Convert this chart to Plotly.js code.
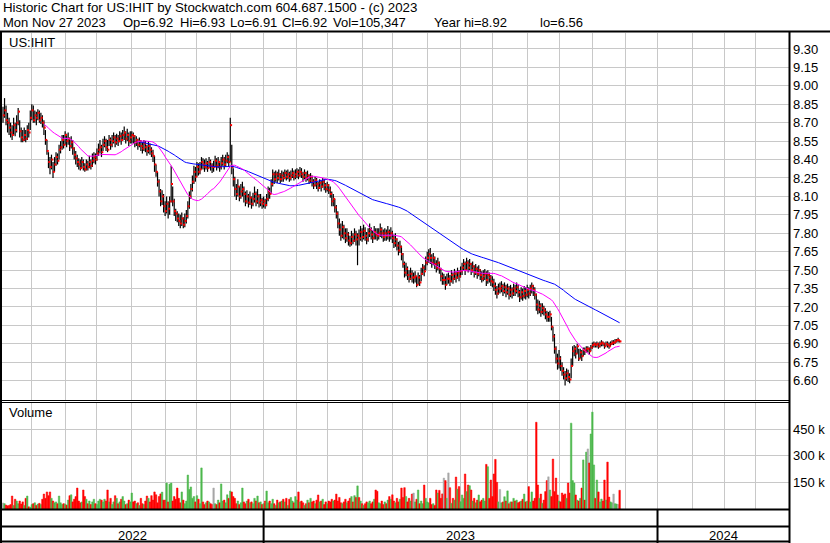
<!DOCTYPE html>
<html><head><meta charset="utf-8">
<script src="https://cdn.plot.ly/plotly-3.0.1.min.js"></script>
<style>html,body{margin:0;padding:0;background:#fff;}#chart{width:830px;height:543px;}</style>
</head><body><div id="chart"></div>
<script>
// ---------- data ----------
const lastTradeDate = '2023-11-27';
const closes = [
8.76,8.80,8.72,8.70,8.66,8.62,8.60,8.68,8.64,8.70,
8.79,8.63,8.58,8.56,8.60,8.57,8.64,8.62,8.74,8.80,
8.72,8.76,8.74,8.78,8.72,8.74,8.70,8.66,8.56,8.47,
8.38,8.34,8.40,8.30,8.36,8.42,8.39,8.48,8.50,8.56,
8.52,8.60,8.55,8.57,8.51,8.54,8.49,8.44,8.41,8.38,
8.36,8.33,8.38,8.34,8.32,8.36,8.34,8.38,8.35,8.39,
8.42,8.40,8.45,8.48,8.50,8.46,8.52,8.55,8.50,8.48,
8.56,8.52,8.55,8.58,8.54,8.57,8.55,8.59,8.56,8.60,
8.62,8.57,8.60,8.55,8.58,8.60,8.59,8.54,8.56,8.52,
8.55,8.51,8.49,8.53,8.50,8.47,8.51,8.48,8.45,8.43,
8.36,8.30,8.22,8.14,8.06,8.10,8.02,7.98,8.04,8.00,
8.06,8.20,8.06,7.98,7.96,7.92,7.90,7.88,7.92,7.87,
7.90,7.94,8.02,8.10,8.16,8.22,8.30,8.26,8.34,8.30,
8.32,8.38,8.36,8.34,8.37,8.33,8.38,8.35,8.34,8.34,
8.39,8.35,8.38,8.34,8.37,8.40,8.36,8.39,8.42,8.38,
8.68,8.34,8.24,8.16,8.12,8.18,8.10,8.14,8.16,8.12,
8.06,8.10,8.05,8.09,8.04,8.08,8.12,8.06,8.10,8.05,
8.07,8.04,8.06,8.03,8.08,8.14,8.12,8.20,8.28,8.24,
8.28,8.25,8.28,8.24,8.27,8.25,8.29,8.26,8.28,8.25,
8.27,8.29,8.26,8.28,8.30,8.27,8.30,8.28,8.26,8.29,
8.25,8.27,8.23,8.26,8.22,8.19,8.23,8.20,8.17,8.21,
8.18,8.22,8.19,8.16,8.19,8.15,8.12,8.06,8.08,8.01,
7.96,7.88,7.83,7.78,7.85,7.80,7.76,7.79,7.74,7.72,
7.77,7.74,7.79,7.75,7.78,7.76,7.81,7.77,7.82,7.78,
7.75,7.80,7.83,7.79,7.76,7.81,7.79,7.78,7.80,7.83,
7.80,7.77,7.80,7.78,7.81,7.78,7.80,7.76,7.72,7.75,
7.70,7.66,7.69,7.63,7.55,7.48,7.51,7.46,7.43,7.47,
7.44,7.44,7.45,7.38,7.44,7.40,7.47,7.52,7.49,7.56,
7.60,7.63,7.60,7.56,7.60,7.55,7.52,7.56,7.51,7.45,
7.42,7.42,7.38,7.43,7.43,7.41,7.46,7.43,7.47,7.44,
7.48,7.45,7.49,7.52,7.55,7.50,7.56,7.52,7.55,7.50,
7.53,7.48,7.51,7.47,7.50,7.46,7.43,7.45,7.47,7.42,
7.46,7.44,7.41,7.40,7.37,7.34,7.31,7.35,7.35,7.37,
7.33,7.36,7.32,7.35,7.30,7.34,7.31,7.35,7.33,7.36,
7.32,7.28,7.32,7.29,7.33,7.30,7.34,7.31,7.35,7.37,
7.34,7.30,7.22,7.18,7.21,7.16,7.19,7.17,7.14,7.12,
7.12,7.14,7.04,6.96,6.86,6.78,6.74,6.78,6.72,6.68,
6.65,6.62,6.66,6.63,6.61,6.72,6.84,6.86,6.82,6.88,
6.78,6.83,6.80,6.85,6.84,6.86,6.86,6.84,6.87,6.89,
6.90,6.89,6.90,6.88,6.90,6.91,6.90,6.88,6.90,6.89,
6.88,6.90,6.91,6.91,6.92,6.93,6.93,6.92];
const highs = [
8.83,8.90,8.84,8.78,8.74,8.70,8.68,8.74,8.70,8.76,
8.82,8.72,8.66,8.64,8.66,8.64,8.68,8.70,8.80,8.85,
8.84,8.80,8.79,8.81,8.80,8.78,8.76,8.72,8.64,8.56,
8.46,8.42,8.44,8.38,8.42,8.46,8.45,8.52,8.55,8.60,
8.60,8.63,8.61,8.62,8.58,8.59,8.56,8.50,8.47,8.44,
8.41,8.40,8.42,8.40,8.37,8.40,8.39,8.43,8.40,8.45,
8.46,8.45,8.49,8.53,8.56,8.52,8.57,8.59,8.57,8.56,
8.60,8.58,8.60,8.62,8.60,8.61,8.60,8.63,8.62,8.64,
8.67,8.63,8.65,8.62,8.63,8.63,8.62,8.60,8.59,8.57,
8.58,8.56,8.54,8.56,8.55,8.52,8.55,8.53,8.50,8.48,
8.43,8.36,8.30,8.24,8.16,8.15,8.12,8.06,8.10,8.06,
8.10,8.35,8.18,8.08,8.00,7.98,7.96,7.95,7.97,7.93,
7.96,7.99,8.06,8.14,8.20,8.27,8.35,8.34,8.38,8.37,
8.38,8.42,8.41,8.40,8.41,8.39,8.42,8.40,8.37,8.39,
8.43,8.41,8.42,8.39,8.42,8.44,8.42,8.44,8.46,8.44,
8.74,8.52,8.33,8.26,8.20,8.24,8.18,8.20,8.22,8.18,
8.14,8.15,8.12,8.14,8.10,8.13,8.18,8.14,8.16,8.12,
8.12,8.09,8.10,8.08,8.12,8.18,8.17,8.24,8.32,8.30,
8.31,8.30,8.32,8.29,8.31,8.30,8.32,8.31,8.32,8.30,
8.31,8.33,8.31,8.32,8.33,8.32,8.34,8.33,8.30,8.32,
8.30,8.31,8.28,8.29,8.27,8.24,8.26,8.25,8.22,8.24,
8.23,8.25,8.24,8.21,8.22,8.20,8.18,8.14,8.12,8.08,
8.03,7.98,7.92,7.88,7.90,7.87,7.84,7.84,7.81,7.78,
7.82,7.80,7.84,7.82,7.80,7.83,7.86,7.84,7.87,7.85,
7.81,7.84,7.88,7.85,7.82,7.86,7.84,7.84,7.84,7.88,
7.85,7.83,7.84,7.83,7.86,7.83,7.85,7.82,7.79,7.80,
7.76,7.73,7.74,7.70,7.64,7.57,7.56,7.53,7.50,7.52,
7.50,7.48,7.49,7.45,7.48,7.46,7.52,7.55,7.54,7.61,
7.65,7.67,7.68,7.63,7.64,7.61,7.58,7.60,7.57,7.52,
7.48,7.47,7.45,7.47,7.48,7.46,7.50,7.48,7.51,7.49,
7.52,7.50,7.53,7.56,7.59,7.57,7.60,7.58,7.59,7.56,
7.57,7.54,7.55,7.53,7.54,7.51,7.49,7.50,7.51,7.49,
7.50,7.48,7.46,7.45,7.43,7.40,7.37,7.39,7.40,7.41,
7.39,7.40,7.38,7.39,7.37,7.38,7.36,7.39,7.38,7.40,
7.38,7.34,7.36,7.35,7.37,7.36,7.38,7.36,7.38,7.40,
7.38,7.36,7.31,7.26,7.25,7.23,7.23,7.21,7.19,7.17,
7.16,7.17,7.12,7.04,6.98,6.88,6.82,6.85,6.80,6.75,
6.71,6.68,6.70,6.69,6.66,6.78,6.88,6.89,6.88,6.90,
6.86,6.86,6.85,6.87,6.87,6.88,6.88,6.87,6.89,6.91,
6.92,6.91,6.92,6.91,6.92,6.93,6.92,6.91,6.92,6.92,
6.91,6.92,6.93,6.93,6.94,6.94,6.95,6.93];
const lows = [
8.70,8.74,8.68,8.62,8.60,8.58,8.56,8.60,8.59,8.62,
8.68,8.58,8.54,8.54,8.55,8.54,8.56,8.58,8.64,8.72,
8.70,8.70,8.68,8.72,8.70,8.69,8.66,8.60,8.52,8.44,
8.33,8.28,8.32,8.25,8.30,8.35,8.36,8.40,8.45,8.48,
8.49,8.52,8.50,8.52,8.47,8.49,8.44,8.40,8.36,8.34,
8.32,8.31,8.33,8.31,8.30,8.31,8.31,8.33,8.32,8.34,
8.37,8.36,8.39,8.43,8.45,8.42,8.47,8.50,8.47,8.46,
8.51,8.48,8.50,8.53,8.50,8.52,8.51,8.54,8.52,8.55,
8.56,8.53,8.55,8.51,8.53,8.53,8.53,8.50,8.51,8.48,
8.50,8.47,8.45,8.47,8.46,8.43,8.45,8.44,8.42,8.38,
8.30,8.26,8.18,8.10,8.02,8.03,7.97,7.94,7.96,7.92,
7.95,8.05,8.02,7.94,7.90,7.89,7.86,7.84,7.86,7.84,
7.85,7.88,7.92,8.00,8.08,8.14,8.20,8.22,8.26,8.27,
8.28,8.32,8.32,8.30,8.32,8.30,8.33,8.31,8.29,8.30,
8.34,8.31,8.33,8.30,8.32,8.35,8.32,8.34,8.37,8.34,
8.38,8.28,8.18,8.10,8.07,8.10,8.06,8.08,8.10,8.05,
8.02,8.04,8.01,8.03,8.00,8.02,8.05,8.02,8.04,8.01,
8.02,8.00,8.01,8.00,8.02,8.06,8.08,8.12,8.18,8.20,
8.22,8.21,8.23,8.21,8.22,8.22,8.24,8.23,8.24,8.22,
8.23,8.25,8.23,8.24,8.25,8.24,8.26,8.25,8.22,8.24,
8.22,8.23,8.20,8.21,8.18,8.16,8.18,8.16,8.14,8.16,
8.14,8.17,8.15,8.13,8.14,8.12,8.09,8.02,8.02,7.97,
7.92,7.84,7.78,7.74,7.76,7.75,7.72,7.73,7.70,7.69,
7.70,7.71,7.73,7.70,7.54,7.70,7.74,7.73,7.75,7.74,
7.71,7.73,7.77,7.75,7.72,7.75,7.75,7.74,7.75,7.77,
7.76,7.73,7.74,7.74,7.75,7.73,7.75,7.72,7.68,7.69,
7.66,7.62,7.64,7.58,7.52,7.44,7.45,7.42,7.40,7.42,
7.40,7.39,7.40,7.36,7.38,7.37,7.41,7.46,7.45,7.50,
7.54,7.56,7.55,7.52,7.54,7.51,7.48,7.50,7.47,7.41,
7.38,7.38,7.34,7.38,7.39,7.37,7.40,7.39,7.42,7.40,
7.43,7.41,7.44,7.46,7.50,7.46,7.50,7.48,7.50,7.46,
7.48,7.44,7.46,7.43,7.45,7.42,7.40,7.41,7.42,7.37,
7.39,7.40,7.37,7.36,7.33,7.30,7.27,7.30,7.31,7.32,
7.29,7.31,7.28,7.30,7.26,7.28,7.27,7.29,7.29,7.31,
7.28,7.24,7.26,7.25,7.27,7.26,7.28,7.27,7.29,7.31,
7.29,7.26,7.17,7.14,7.15,7.12,7.14,7.13,7.10,7.08,
7.08,7.08,7.01,6.92,6.82,6.74,6.69,6.70,6.68,6.64,
6.61,6.56,6.60,6.59,6.58,6.62,6.72,6.80,6.78,6.82,
6.76,6.78,6.76,6.80,6.81,6.83,6.83,6.81,6.84,6.86,
6.87,6.87,6.87,6.86,6.87,6.88,6.88,6.86,6.88,6.87,
6.86,6.88,6.89,6.89,6.90,6.91,6.91,6.91];
const volumes = [
34000,30000,22000,18000,20000,25000,73000,20000,55000,45000,
30000,45000,28000,40000,20000,60000,73000,12000,10000,25000,
30000,35000,20000,28000,32000,25000,55000,84000,60000,96000,
75000,96000,60000,45000,35000,40000,30000,73000,35000,25000,
30000,28000,22000,50000,75000,80000,40000,55000,70000,118000,
45000,35000,40000,107000,70000,55000,30000,45000,25000,40000,
55000,30000,25000,45000,55000,50000,40000,55000,45000,107000,
40000,60000,25000,40000,75000,60000,30000,40000,55000,70000,
45000,25000,30000,50000,40000,90000,40000,45000,30000,35000,
20000,60000,30000,25000,45000,73000,60000,40000,75000,50000,
96000,80000,35000,70000,85000,95000,50000,50000,146000,40000,
140000,146000,45000,70000,55000,118000,60000,35000,96000,50000,
30000,45000,191000,110000,124000,60000,70000,40000,75000,55000,
30000,231000,40000,25000,35000,45000,40000,30000,25000,118000,
30000,25000,50000,35000,141000,45000,50000,35000,80000,60000,
101000,96000,70000,60000,30000,45000,25000,35000,118000,40000,
30000,45000,55000,35000,40000,30000,60000,45000,73000,35000,
40000,25000,30000,45000,101000,35000,45000,30000,55000,30000,
20000,50000,35000,40000,45000,55000,40000,60000,20000,55000,
65000,45000,35000,70000,50000,96000,40000,45000,35000,20000,
30000,50000,35000,60000,40000,45000,30000,50000,79000,40000,
45000,55000,25000,40000,30000,45000,40000,55000,45000,50000,
84000,45000,65000,35000,30000,40000,55000,35000,45000,60000,
70000,40000,75000,65000,130000,65000,45000,30000,20000,30000,
40000,35000,45000,30000,40000,55000,107000,100000,35000,30000,
45000,25000,40000,30000,50000,70000,55000,80000,45000,35000,
60000,40000,55000,118000,65000,120000,70000,40000,60000,45000,
84000,90000,40000,55000,107000,30000,45000,30000,135000,60000,
40000,35000,60000,25000,30000,20000,107000,90000,105000,60000,
85000,174000,160000,60000,203000,120000,32000,60000,50000,180000,
112000,126000,41000,79000,60000,197000,98000,135000,131000,107000,
45000,60000,35000,50000,79000,41000,50000,60000,45000,251000,
238000,60000,163000,70000,197000,279000,150000,40000,110000,35000,
40000,69000,45000,102000,30000,40000,40000,60000,45000,50000,
35000,40000,45000,55000,84000,40000,45000,126000,40000,96000,
45000,60000,488000,135000,60000,84000,32000,50000,98000,160000,
181000,107000,70000,281000,98000,174000,79000,45000,40000,90000,
79000,85000,60000,146000,90000,483000,160000,146000,79000,50000,
45000,60000,118000,276000,50000,320000,338000,259000,422000,545000,
248000,60000,163000,96000,40000,56000,45000,163000,50000,264000,
67000,40000,35000,84000,30000,28000,25000,105347];
const fastWindow = 28;   // magenta average (trading days)
const slowWindow = 91;   // blue average (trading days)
const priceTicks = [6.60,6.75,6.90,7.05,7.20,7.35,7.50,7.65,7.80,7.95,8.10,8.25,8.40,8.55,8.70,8.85,9.00,9.15,9.30];
const priceTickText = ['6.60','6.75','6.90','7.05','7.20','7.35','7.50','7.65','7.80','7.95','8.10','8.25','8.40','8.55','8.70','8.85','9.00','9.15','9.30'];
const volumeTicks = [150000,300000,450000];
const volumeTickText = ['150 k','300 k','450 k'];
const yearLabels = ['2022','2023','2024'];
const headerLine1 = 'Historic Chart for US:IHIT by Stockwatch.com 604.687.1500 - (c) 2023';
const headerFields = ['Mon Nov 27 2023','Op=6.92','Hi=6.93','Lo=6.91','Cl=6.92','Vol=105,347','Year hi=8.92','lo=6.56'];
const symbolLabel = 'US:IHIT';
const volumeLabel = 'Volume';

// ---------- derived ----------
function tradingDates(n, end) {
  const out = [];
  const d = new Date(end + 'T00:00:00Z');
  while (out.length < n) {
    const wd = d.getUTCDay();
    if (wd !== 0 && wd !== 6) out.unshift(d.toISOString().slice(0, 10));
    d.setUTCDate(d.getUTCDate() - 1);
  }
  return out;
}
const dates = tradingDates(closes.length, lastTradeDate);
// close tick drawn just to the right of each bar
const closeTickX = dates.map(d => d + ' 13:00');

function sma(vals, n) {
  return vals.map((v, i) => {
    if (i < n - 1) return null;
    let s = 0; for (let k = i - n + 1; k <= i; k++) s += vals[k];
    return s / n;
  });
}
const fastMA = sma(closes, fastWindow);
const slowMA = sma(closes, slowWindow);

const barX = [], barY = [];
dates.forEach((d, i) => { barX.push(d, d, null); barY.push(lows[i], highs[i], null); });

const volColors = closes.map((c, i) => i === 0 ? '#a8a8a8' : c > closes[i-1] ? '#4db84d' : c < closes[i-1] ? '#ff0000' : '#a8a8a8');

function monthStarts(y0, m0, y1, m1) {
  const out = [];
  let y = y0, m = m0;
  while (y < y1 || (y === y1 && m <= m1)) {
    const d = new Date(Date.UTC(y, m - 1, 1));
    while (d.getUTCDay() === 0 || d.getUTCDay() === 6) d.setUTCDate(d.getUTCDate() + 1);
    out.push(d.toISOString().slice(0, 10));
    m++; if (m > 12) { m = 1; y++; }
  }
  return out;
}
const gridMonths = monthStarts(2022, 6, 2024, 4);

// ---------- layout ----------
const W = 830, H = 543;
const fx = p => p / W, fy = p => 1 - p / H;
const FONT = 'Liberation Sans, Arial, sans-serif';
const xRange = ['2022-05-04 08:00', '2024-04-30 19:00'];
const xBase = {
  type: 'date', range: xRange, rangebreaks: [{bounds: ['sat', 'mon']}],
  domain: [fx(2), fx(789)], tickmode: 'array', tickvals: gridMonths,
  showticklabels: false, ticks: '', showgrid: true, gridcolor: '#c8c8c8', gridwidth: 1,
  zeroline: false, showline: false, fixedrange: true
};

const traces = [
  {type: 'scatter', mode: 'lines', x: barX, y: barY, xaxis: 'x', yaxis: 'y',
   line: {color: '#000000', width: 1.2}, hoverinfo: 'skip', connectgaps: false},
  {type: 'scatter', mode: 'markers', x: closeTickX, y: closes, xaxis: 'x', yaxis: 'y',
   marker: {symbol: 'square', size: 2, color: '#ff0000', line: {width: 0}}, hoverinfo: 'skip'},
  {type: 'scatter', mode: 'lines', x: dates, y: slowMA, xaxis: 'x', yaxis: 'y',
   line: {color: '#0000ff', width: 1}, hoverinfo: 'skip'},
  {type: 'scatter', mode: 'lines', x: dates, y: fastMA, xaxis: 'x', yaxis: 'y',
   line: {color: '#ff00ff', width: 1}, hoverinfo: 'skip'},
  {type: 'bar', x: dates, y: volumes, xaxis: 'x2', yaxis: 'y2',
   marker: {color: volColors, line: {color: volColors, width: 0.5}}, hoverinfo: 'skip'}
];

function hline(y, x0, x1, w) { return {type: 'line', xref: 'paper', yref: 'paper', x0: fx(x0), x1: fx(x1), y0: fy(y), y1: fy(y), line: {color: '#000', width: w}}; }
function vline(x, y0, y1, w) { return {type: 'line', xref: 'paper', yref: 'paper', x0: fx(x), x1: fx(x), y0: fy(y0), y1: fy(y1), line: {color: '#000', width: w}}; }

const shapes = [
  hline(31.5, 0, 830, 2),
  vline(1, 31, 543, 2),
  vline(789.5, 31, 543, 2),
  hline(400.5, 0, 790, 1),
  hline(402.5, 0, 790, 1),
  hline(509.5, 0, 790, 2),
  hline(526.5, 0, 790, 2),
  hline(541.5, 0, 790, 2),
  {type: 'line', xref: 'x', yref: 'paper', x0: '2023-01-02', x1: '2023-01-02', y0: fy(509), y1: fy(543), line: {color: '#000', width: 2}},
  {type: 'line', xref: 'x', yref: 'paper', x0: '2024-01-01', x1: '2024-01-01', y0: fy(509), y1: fy(543), line: {color: '#000', width: 2}}
];

function label(text, x, y, size, anchor) {
  return {text: text, xref: 'paper', yref: 'paper', x: fx(x), y: fy(y), xanchor: anchor || 'left', yanchor: 'middle',
          showarrow: false, font: {family: FONT, size: size, color: '#000'}};
}
// left edges (px) of the fields of the second header line
const fieldLeft = [1, 121, 178, 228, 280, 331, 432, 538];
const annotations = [
  label(headerLine1, 1, 8, 13.3),
  ...headerFields.map((t, i) => label(t, fieldLeft[i], 22, 13)),
  label(symbolLabel, 7, 42, 13),
  label(volumeLabel, 7, 413, 13),
  label(yearLabels[0], 132, 535, 13, 'center'),
  label(yearLabels[1], 460, 535, 13, 'center'),
  label(yearLabels[2], 723, 535, 13, 'center')
];

const layout = {
  width: W, height: H, margin: {l: 0, r: 0, t: 0, b: 0},
  paper_bgcolor: '#ffffff', plot_bgcolor: '#ffffff', showlegend: false,
  font: {family: FONT, size: 13, color: '#000'},
  bargap: 0,
  xaxis: Object.assign({}, xBase, {anchor: 'y'}),
  xaxis2: Object.assign({}, xBase, {anchor: 'y2'}),
  yaxis: {domain: [fy(400), fy(33)], range: [6.443, 9.430], side: 'right', anchor: 'x',
          tickmode: 'array', tickvals: priceTicks, ticktext: priceTickText, ticks: '', ticklabelstandoff: 3,
          showgrid: true, gridcolor: '#c8c8c8', gridwidth: 1, zeroline: false, showline: false, fixedrange: true,
          tickfont: {family: FONT, size: 13, color: '#000'}},
  yaxis2: {domain: [fy(509), fy(403)], range: [0, 596250], side: 'right', anchor: 'x2',
           tickmode: 'array', tickvals: volumeTicks, ticktext: volumeTickText, ticks: '', ticklabelstandoff: 3,
           showgrid: true, gridcolor: '#c8c8c8', gridwidth: 1, zeroline: false, showline: false, fixedrange: true,
           tickfont: {family: FONT, size: 13, color: '#000'}},
  shapes: shapes,
  annotations: annotations
};

Plotly.newPlot('chart', traces, layout, {staticPlot: true, displayModeBar: false});
</script>
</body></html>
